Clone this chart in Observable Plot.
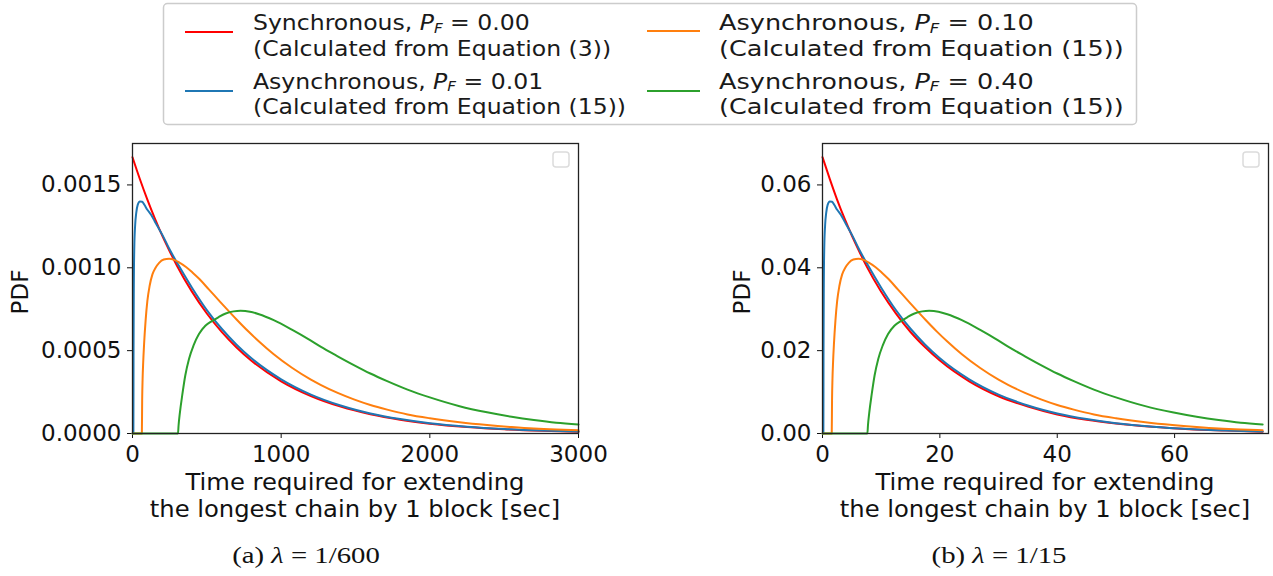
<!DOCTYPE html>
<html><head><meta charset="utf-8">
<script src="https://cdn.jsdelivr.net/npm/d3@7"></script>
<script src="https://cdn.jsdelivr.net/npm/@observablehq/plot@0.6"></script>
<style>
body{margin:0;background:#fff;}
#root{position:relative;width:1273px;height:576px;overflow:hidden;background:#fff;}
.abs{position:absolute;}
</style></head>
<body><div id="root"></div>
<script>
// ---------- data: panel (a) lambda = 1/600 ----------
const A_SYNC_T = [0,50,100,150,200,250,300,400,500,600,700,800,1000,1200,1400,1600,1800,2000,2250,2500,2750,3000];
const A_SYNC_V = [0.001667,0.001534,0.001411,0.001298,0.001194,0.0011,0.001011,0.000856,0.000724,0.000613,0.000519,0.000439,0.000315,0.000226,0.000162,0.000116,0.000083,0.0000594,0.0000393,0.0000258,0.000017,0.0000112];
const A_PF01_T = [0,6,7,9,12,18,25,35,50,65,80,100,125,150,175,200,250,300,400,500,600,700,800,1000,1200,1400,1600,1800,2000,2250,2500,2750,3000];
const A_PF01_V = [0,0,0.0005,0.0009,0.00112,0.00126,0.00133,0.00138,0.0014,0.001398,0.00138,0.00135,0.00132,0.00128,0.00124,0.0012,0.00111,0.00103,0.00088,0.000745,0.000632,0.000536,0.000454,0.000327,0.000235,0.000169,0.000121,0.000087,0.000062,0.000041,0.000027,0.0000178,0.0000118];
const A_PF10_T = [0,63,65,68,72,78,88,100,115,134,155,179,210,246,280,313,360,403,450,515,570,627,700,780,851,950,1075,1200,1265,1380,1489,1600,1713,1850,2000,2200,2385,2550,2700,2850,3000];
const A_PF10_V = [0,0,0.0002,0.00033,0.00043,0.00054,0.00068,0.0008,0.00089,0.00096,0.001,0.00103,0.00105,0.001055,0.001048,0.001033,0.001005,0.000972,0.000932,0.000868,0.000814,0.000758,0.000688,0.000615,0.000555,0.000478,0.000395,0.000325,0.000294,0.000245,0.000206,0.000172,0.000144,0.000115,0.000092,0.000068,0.000051,0.000039,0.00003,0.000024,0.00002];
const A_PF40_T = [0,306,310,318,336,355,380,410,447,490,537,580,627,680,727,790,851,950,1075,1180,1265,1380,1489,1600,1713,1850,2000,2200,2385,2550,2700,2850,3000];
const A_PF40_V = [0,0,0.00005,0.00012,0.00024,0.00035,0.00045,0.00053,0.0006,0.00065,0.00068,0.000703,0.000724,0.000737,0.00074,0.000735,0.00072,0.000684,0.000625,0.000571,0.000524,0.000466,0.000413,0.000362,0.000316,0.000265,0.000218,0.000165,0.000128,0.000101,0.000081,0.000065,0.000055];

// ---------- data: panel (b) lambda = 1/15 ----------
const B_SYNC_T = [0,1.25,2.5,3.75,5,6.25,7.5,10,12.5,15,17.5,20,25,30,35,40,45,50,56.25,62.5,68.75,75];
const B_SYNC_V = [0.0667,0.0614,0.0564,0.0519,0.0478,0.044,0.0404,0.0342,0.029,0.0245,0.0208,0.0176,0.0126,0.009,0.0065,0.0046,0.0033,0.0024,0.0016,0.001,0.0007,0.00045];
const B_PF01_T = [0,0.15,0.175,0.225,0.3,0.45,0.625,0.875,1.25,1.625,2,2.5,3.125,3.75,4.375,5,6.25,7.5,10,12.5,15,17.5,20,25,30,35,40,45,50,56.25,62.5,68.75,75];
const B_PF01_V = [0,0,0.02,0.036,0.0448,0.0504,0.0532,0.0552,0.056,0.05592,0.0552,0.054,0.0528,0.0512,0.0496,0.048,0.0444,0.0412,0.0352,0.0298,0.02528,0.02144,0.01816,0.01308,0.0094,0.00676,0.00484,0.00348,0.00248,0.00164,0.00108,0.00071,0.00047];
const B_PF10_T = [0,1.575,1.625,1.7,1.8,1.95,2.2,2.5,2.875,3.35,3.875,4.475,5.25,6.15,7,7.825,9,10.075,11.25,12.875,14.25,15.675,17.5,19.5,21.275,23.75,26.875,30,31.625,34.5,37.225,40,42.825,46.25,50,55,59.625,63.75,67.5,71.25,75];
const B_PF10_V = [0,0,0.008,0.0132,0.0172,0.0216,0.0272,0.032,0.0356,0.0384,0.04,0.0412,0.042,0.0422,0.04192,0.04132,0.0402,0.03888,0.03728,0.03472,0.03256,0.03032,0.02752,0.0246,0.0222,0.01912,0.0158,0.013,0.01176,0.0098,0.00824,0.00688,0.00576,0.0046,0.00368,0.00272,0.00204,0.00156,0.0012,0.00096,0.0008];
const B_PF40_T = [0,7.65,7.75,7.95,8.4,8.875,9.5,10.25,11.175,12.25,13.425,14.5,15.675,17,18.175,19.75,21.275,23.75,26.875,29.5,31.625,34.5,37.225,40,42.825,46.25,50,55,59.625,63.75,67.5,71.25,75];
const B_PF40_V = [0,0,0.002,0.0048,0.0096,0.014,0.018,0.0212,0.024,0.026,0.0272,0.02812,0.02896,0.02948,0.0296,0.0294,0.0288,0.02736,0.025,0.02284,0.02096,0.01864,0.01652,0.01448,0.01264,0.0106,0.00872,0.0066,0.00512,0.00404,0.00324,0.0026,0.0022];

// ---------- labels / ticks ----------
const SERIES_NAMES = ["Synchronous", "Asynchronous", "Asynchronous", "Asynchronous"];
const SERIES_PF = ["0.00", "0.01", "0.10", "0.40"];
const SERIES_EQ = ["(Calculated from Equation (3))", "(Calculated from Equation (15))", "(Calculated from Equation (15))", "(Calculated from Equation (15))"];
const SERIES_COLORS = ["#ff0000", "#1f77b4", "#ff7f0e", "#2ca02c"];
const X_TICKS_A = [0, 1000, 2000, 3000];
const Y_TICKS_A = [0, 0.0005, 0.001, 0.0015];
const X_TICKS_B = [0, 20, 40, 60];
const Y_TICKS_B = [0, 0.02, 0.04, 0.06];
const X_LABEL = ["Time required for extending", "the longest chain by 1 block [sec]"];
const Y_LABEL = "PDF";
const CAPTION_A = ["(a)", "λ", "= 1/600"];
const CAPTION_B = ["(b)", "λ", "= 1/15"];

const root = document.getElementById("root");

function rows(T, V) { return T.map((t, i) => ({t, v: V[i]})); }

function panel(opts) {
  const series = opts.series;
  const fig = Plot.plot({
    width: opts.width, height: 345,
    marginLeft: 132, marginRight: opts.marginRight, marginTop: 13, marginBottom: 42,
    style: {fontFamily: "DejaVu Sans", fontSize: "23px", color: "#111", background: "transparent", overflow: "visible"},
    x: {domain: opts.xDomain, ticks: opts.xTicks, tickFormat: d => String(d), tickSize: 5, tickPadding: 7, label: null},
    y: {domain: opts.yDomain, ticks: opts.yTicks, tickFormat: opts.yFormat, tickSize: 5, tickPadding: 6, label: null},
    marks: [
      ...series.map((s, i) => Plot.line(s, {x: "t", y: "v", stroke: SERIES_COLORS[i], strokeWidth: 2, curve: "monotone-x"})),
      Plot.frame({stroke: "#222", strokeWidth: 1.3})
    ]
  });
  fig.style.position = "absolute";
  fig.style.left = opts.left + "px";
  fig.style.top = "130px";
  root.appendChild(fig);
}

panel({
  left: 0, width: 620, marginRight: 42,
  xDomain: [0, 3000], yDomain: [0, 0.00175], xTicks: X_TICKS_A, yTicks: Y_TICKS_A,
  yFormat: d => d.toFixed(4),
  series: [rows(A_SYNC_T, A_SYNC_V), rows(A_PF01_T, A_PF01_V), rows(A_PF10_T, A_PF10_V), rows(A_PF40_T, A_PF40_V)]
});
panel({
  left: 690, width: 583, marginRight: 5,
  xDomain: [0, 76], yDomain: [0, 0.07], xTicks: X_TICKS_B, yTicks: Y_TICKS_B,
  yFormat: d => d.toFixed(2),
  series: [rows(B_SYNC_T, B_SYNC_V), rows(B_PF01_T, B_PF01_V), rows(B_PF10_T, B_PF10_V), rows(B_PF40_T, B_PF40_V)]
});

// ---------- overlay: legend, axis titles, captions ----------
const svg = d3.select(root).append("svg")
  .attr("class", "abs").attr("width", 1273).attr("height", 576)
  .style("left", "0px").style("top", "0px").style("pointer-events", "none")
  .style("font-family", "DejaVu Sans");

// legend box
svg.append("rect").attr("x", 163.5).attr("y", 3.5).attr("width", 973).attr("height", 121)
  .attr("rx", 4).attr("fill", "#fff").attr("stroke", "#cccccc").attr("stroke-width", 1.5);

const legendPos = [
  {lx: 185, lx2: 233, ly: 32, tx: 253, b1: 30.5, b2: 56, sx: 1.122},
  {lx: 185, lx2: 233, ly: 91, tx: 253, b1: 89, b2: 114.5, sx: 1.122},
  {lx: 647, lx2: 700, ly: 31, tx: 719, b1: 30.5, b2: 56, sx: 1.217},
  {lx: 647, lx2: 700, ly: 91, tx: 719, b1: 89, b2: 114.5, sx: 1.217}
];
SERIES_NAMES.forEach((name, i) => {
  const p = legendPos[i];
  svg.append("line").attr("x1", p.lx).attr("x2", p.lx2).attr("y1", p.ly).attr("y2", p.ly)
    .attr("stroke", SERIES_COLORS[i]).attr("stroke-width", 2);
  const t = svg.append("text").attr("transform", `translate(${p.tx},0) scale(${p.sx},1)`)
    .attr("font-size", 21).attr("fill", "#1a1a1a");
  t.append("tspan").attr("x", 0).attr("y", p.b1).text(name + ", ");
  t.append("tspan").attr("font-style", "italic").text("P");
  t.append("tspan").attr("font-style", "italic").attr("font-size", 13.5).attr("dy", 2.5).text("F");
  t.append("tspan").attr("dy", -2.5).text(" = " + SERIES_PF[i]);
  t.append("tspan").attr("x", 0).attr("y", p.b2).text(SERIES_EQ[i]);
});

// empty inner legend boxes
[[553, 152], [1243, 152]].forEach(([x, y]) => {
  svg.append("rect").attr("x", x).attr("y", y).attr("width", 16).attr("height", 15).attr("rx", 3)
    .attr("fill", "#fff").attr("stroke", "#dcdcdc").attr("stroke-width", 1.5);
});

// axis titles
[[355, 20], [1045, 742]].forEach(([cx, yx]) => {
  const t = svg.append("text").attr("transform", `translate(${cx},0) scale(1.055,1)`)
    .attr("text-anchor", "middle").attr("font-size", 23).attr("fill", "#111");
  t.append("tspan").attr("x", 0).attr("y", 490).text(X_LABEL[0]);
  t.append("tspan").attr("x", 0).attr("y", 517).text(X_LABEL[1]);
  svg.append("text").attr("transform", `translate(${yx + 8},292) rotate(-90)`).attr("text-anchor", "middle")
    .attr("font-size", 23).attr("fill", "#111").text(Y_LABEL);
});

// captions
[[306, CAPTION_A], [999, CAPTION_B]].forEach(([cx, cap]) => {
  const t = svg.append("text").attr("transform", `translate(${cx},563) scale(1.25,1)`).attr("text-anchor", "middle")
    .attr("font-family", "Liberation Serif").attr("font-size", 23).attr("fill", "#111");
  t.append("tspan").text(cap[0] + " ");
  t.append("tspan").attr("font-style", "italic").text(cap[1]);
  t.append("tspan").text(" " + cap[2]);
});
</script>
</body></html>
